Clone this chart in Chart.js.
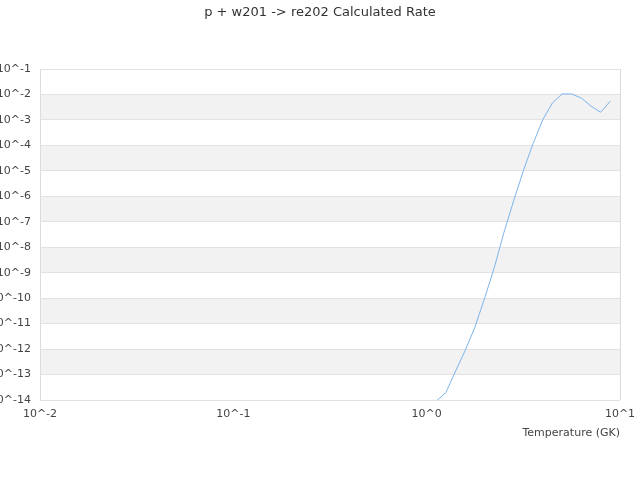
<!DOCTYPE html>
<html>
<head>
<meta charset="utf-8">
<script src="https://cdn.jsdelivr.net/npm/chart.js@4/dist/chart.umd.min.js"></script>
<style>
  html, body { margin: 0; padding: 0; background: #fff; }
  #wrap { width: 640px; height: 480px; }
</style>
</head>
<body>
<div id="wrap"><canvas id="rate" width="640" height="480"></canvas></div>
<script>
// data (T in GK, rate)
const temperatures = [1.000, 1.122, 1.259, 1.413, 1.585, 1.778, 1.995, 2.239, 2.512, 2.818,
    3.162, 3.548, 3.981, 4.467, 5.012, 5.623, 6.310, 7.079, 7.943, 8.913];
const rates = [2.5e-15, 9.0e-15, 2.0e-14, 1.4e-13, 9.1e-13, 7.4e-12, 1.0e-10, 1.6e-9, 3.9e-8, 6.6e-7,
    1.0e-5, 1.15e-4, 1.0e-3, 4.6e-3, 1.05e-2, 1.05e-2, 7.2e-3, 3.5e-3, 2.0e-3, 5.5e-3];
const xTicks = [1e-2, 1e-1, 1e0, 1e1];
const yTicks = [1e-14, 1e-13, 1e-12, 1e-11, 1e-10, 1e-9, 1e-8, 1e-7, 1e-6, 1e-5, 1e-4, 1e-3, 1e-2, 1e-1];

Chart.defaults.font.family = "'DejaVu Sans', sans-serif";
Chart.defaults.color = "#555";

function powLabel(v) {
    return "10^" + Math.round(Math.log10(v));
}

// alternate grey bands between every other decade
const bands = {
    id: "bands",
    beforeDraw(chart) {
        const ctx = chart.ctx;
        const y = chart.scales.y;
        const area = chart.chartArea;
        ctx.save();
        ctx.fillStyle = "#f2f2f2";
        for (let i = 1; i < yTicks.length - 1; i += 2) {
            const top = y.getPixelForValue(yTicks[i + 1]);
            const bottom = y.getPixelForValue(yTicks[i]);
            ctx.fillRect(area.left, top, area.right - area.left, bottom - top);
        }
        ctx.restore();
    }
};

const ctx = document.getElementById("rate").getContext("2d");
const rateChart = new Chart(ctx, {
    type: "line",
    data: {
        datasets: [{
            label: "rate",
            data: temperatures.map((t, i) => ({ x: t, y: rates[i] })),
            borderColor: "#7cb5ec",
            borderWidth: 1,
            pointRadius: 0,
            tension: 0,
            fill: false
        }]
    },
    options: {
        responsive: false,
        animation: false,
        devicePixelRatio: 1,
        layout: {
            padding: { top: 0, right: 0, bottom: 40.6, left: 0 }
        },
        plugins: {
            legend: { display: false },
            tooltip: { enabled: false },
            title: {
                display: true,
                text: "p + w201 -> re202 Calculated Rate",
                color: "#333",
                font: { size: 13, weight: "normal" },
                padding: { top: 5, bottom: 48.4 }
            }
        },
        scales: {
            x: {
                type: "logarithmic",
                min: 1e-2,
                max: 1e1,
                afterBuildTicks: (s) => { s.ticks = xTicks.map(v => ({ value: v })); },
                afterFit: (s) => { s.paddingLeft = 0; s.paddingRight = 20; },
                ticks: {
                    callback: powLabel,
                    maxRotation: 0,
                    autoSkip: false,
                    padding: 8,
                    font: { size: 11 },
                    color: "#444"
                },
                grid: {
                    drawTicks: false,
                    color: (c) => (c.index === 0 || c.index === xTicks.length - 1) ? "#dcdcdc" : "rgba(0,0,0,0)"
                },
                border: { display: false },
                title: {
                    display: true,
                    text: "Temperature (GK)",
                    align: "end",
                    color: "#444",
                    font: { size: 11 },
                    padding: { top: -3, bottom: 0 }
                }
            },
            y: {
                type: "logarithmic",
                min: 1e-14,
                max: 1e-1,
                afterBuildTicks: (s) => { s.ticks = yTicks.map(v => ({ value: v })); },
                afterFit: (s) => { s.width = 40; },
                ticks: {
                    callback: powLabel,
                    autoSkip: false,
                    padding: 9,
                    font: { size: 11 },
                    color: "#444"
                },
                grid: {
                    drawTicks: false,
                    color: "#e2e2e2"
                },
                border: { display: false }
            }
        }
    },
    plugins: [bands]
});
</script>
</body>
</html>
